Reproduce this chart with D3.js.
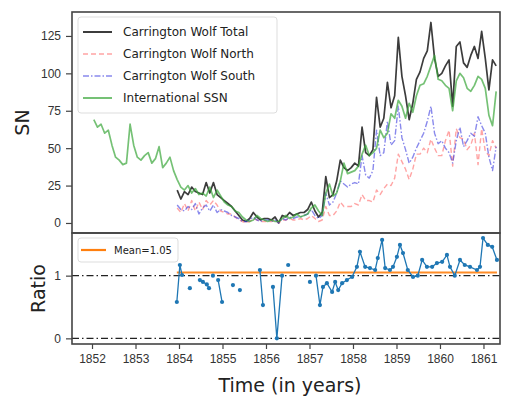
<!DOCTYPE html>
<html><head><meta charset="utf-8">
<script src="https://cdn.jsdelivr.net/npm/d3@7"></script>
<style>body{margin:0;background:#fff}svg{display:block;font-family:"DejaVu Sans",sans-serif}</style>
</head><body><svg id="c" width="506" height="397"></svg>
<script>
// ---- data ----
const issnStart = 1852; // monthly, Jan 1852 .. Apr 1861
const issnValues = [
 69,64,66,60,62,52,44,42,39,40,66,52,
 44,42,45,47,40,43,51,37,40,44,35,29,
 24,22,25,20,23,19,20,18,24,17,22,18,
 14,12,11,8,7,4,2,1,2,5,3,2,
 1,2,1,1,3,5,3,4,6,4,5,6,
 10,12,8,5,20,26,18,20,28,40,33,34,
 35,38,46,52,45,47,50,62,57,60,73,70,
 82,78,70,80,74,85,92,93,98,105,112,96,
 95,92,90,75,95,100,97,90,88,92,98,96,
 90,72,65,88];
const carStart = 1853 + 11/12; // monthly, Dec 1853 .. Apr 1861
const totalValues = [22,
 16,21,19,24,21,20,19,27,20,27,19,17,
 15,13,11,8,5,2,1,3,7,4,2,3,
 3,2,4,0,5,4,7,5,6,7,7,9,
 14,8,4,7,31,17,19,28,42,37,35,37,
 40,38,64,47,45,49,84,64,70,94,77,85,
 124,98,85,69,80,96,101,110,115,134,110,98,
 100,105,109,78,118,121,107,104,112,118,110,128,
 110,89,109,105];
const southValues = [12,
 9,8,11,9,13,6,10,12,8,12,7,9,
 8,7,5,4,3,1,1,2,4,2,1,2,
 2,1,2,0,3,2,4,3,4,4,5,6,
 9,5,3,5,20,12,14,20,28,26,24,26,
 27,26,45,32,30,35,62,45,47,68,52,55,
 78,57,49,40,44,50,55,60,68,78,60,53,
 55,50,47,40,55,64,51,55,60,58,71,65,
 60,44,35,51];
const northValues = [10,
 7,13,8,15,8,14,9,15,12,15,12,8,
 7,6,6,4,2,1,0,1,3,2,1,1,
 1,1,2,0,2,2,3,2,2,3,2,3,
 5,3,1,2,11,5,5,8,14,11,11,11,
 13,12,19,15,15,14,22,19,23,26,25,30,
 46,41,36,29,36,46,46,50,47,56,50,45,
 45,55,62,38,63,57,56,49,52,60,39,63,
 48,45,55,50];
const ratioTimes = [1853.95,1854.02,1854.07,null,1854.25,null,1854.48,1854.55,1854.64,1854.69,null,1854.78,null,
 1854.90,1854.99,null,1855.24,null,1855.40,null,1855.86,1855.93,null,1856.16,1856.25,1856.37,null,1856.51,null,
 1857.01,null,1857.15,1857.24,1857.31,1857.40,1857.52,1857.59,1857.66,1857.75,1857.86,1857.98,1858.09,1858.16,
 1858.28,1858.39,1858.51,1858.57,1858.67,1858.74,1858.85,1858.92,1859.01,1859.08,1859.15,1859.26,1859.38,1859.49,
 1859.59,1859.70,1859.82,1859.93,1860.05,1860.16,1860.23,1860.34,1860.46,1860.57,1860.69,1860.85,1860.92,1860.99,
 1861.10,1861.20,1861.31];
const ratioValues = [0.58,1.17,1.01,null,0.80,null,0.93,0.90,0.86,0.80,null,1.00,null,
 0.93,0.58,null,0.85,null,0.77,null,1.09,0.53,null,0.82,0.0,1.0,null,1.17,null,
 0.90,null,1.0,0.53,0.82,0.88,0.74,0.90,0.77,0.88,0.93,0.98,1.14,1.38,
 1.14,1.12,1.09,1.28,1.57,1.12,1.09,1.14,1.30,1.49,1.36,1.09,0.98,1.00,
 1.25,1.14,1.14,1.20,1.22,1.33,1.14,1.00,1.25,1.17,1.14,1.09,1.14,1.60,
 1.49,1.46,1.25];
const meanRatio = 1.05;
const xTicks = [1852,1853,1854,1855,1856,1857,1858,1859,1860,1861];
const snTicks = [0,25,50,75,100,125];
const ratioTicks = [0,1];
const seriesNames = ["Carrington Wolf Total","Carrington Wolf North","Carrington Wolf South","International SSN"];

// ---- layout ----
const svg = d3.select("#c");
const L=72, R=500, T1=12, B1=233, T2=233, B2=344;
const x = d3.scaleLinear().domain([1851.54,1861.38]).range([L,R]);
const y1 = d3.scaleLinear().domain([-6.7,141]).range([B1,T1]);
const y2 = d3.scaleLinear().domain([-0.09,1.68]).range([B2,T2]);

const monthly = (start, vals) => vals.map((v,i)=>({t:start+(i+0.5)/12, v}));
const issn = monthly(issnStart, issnValues);
const total = monthly(carStart, totalValues);
const north = monthly(carStart, northValues);
const south = monthly(carStart, southValues);
const ratio = ratioTimes.map((t,i)=>({t, v: ratioValues[i]}));

svg.append("defs").append("clipPath").attr("id","clip1").append("rect")
  .attr("x",L).attr("y",T1).attr("width",R-L).attr("height",B1-T1);
svg.select("defs").append("clipPath").attr("id","clip2").append("rect")
  .attr("x",L).attr("y",T2).attr("width",R-L).attr("height",B2-T2);

const line1 = d3.line().x(d=>x(d.t)).y(d=>y1(d.v));
const g1 = svg.append("g").attr("clip-path","url(#clip1)");
const styles = [
  {data: total, stroke:"#1a1a1a", op:0.85, w:1.7, dash:null},
  {data: north, stroke:"#ff5a5a", op:0.55, w:1.4, dash:"5,3"},
  {data: south, stroke:"#3b3be0", op:0.6, w:1.4, dash:"6,2,1.5,2"},
  {data: issn, stroke:"#3aa63a", op:0.7, w:1.7, dash:null}
];
styles.forEach(s=>{
  g1.append("path").datum(s.data).attr("d",line1).attr("fill","none")
    .attr("stroke",s.stroke).attr("stroke-opacity",s.op).attr("stroke-width",s.w)
    .attr("stroke-dasharray",s.dash).attr("stroke-linejoin","round");
});

function styleAxis(a){
  a.select(".domain").remove();
  a.selectAll("text").attr("font-size",12).attr("fill","#333");
  a.selectAll("line").attr("stroke","#444").attr("stroke-width",1.2);
}
// axes top
styleAxis(svg.append("g").attr("transform",`translate(${L},0)`)
  .call(d3.axisLeft(y1).tickValues(snTicks).tickSize(6).tickPadding(5)));

// bottom panel
const g2 = svg.append("g").attr("clip-path","url(#clip2)");
[0,1].forEach(v=>{
  g2.append("line").attr("x1",L).attr("x2",R).attr("y1",y2(v)).attr("y2",y2(v))
    .attr("stroke","#222").attr("stroke-width",1.3).attr("stroke-dasharray","7,3,1.5,3");
});
g2.append("line").attr("x1",x(ratioTimes[0])).attr("x2",x(ratioTimes[ratioTimes.length-1]))
  .attr("y1",y2(meanRatio)).attr("y2",y2(meanRatio))
  .attr("stroke","#ff7f0e").attr("stroke-width",2.2).attr("stroke-opacity",0.9);
const line2 = d3.line().defined(d=>d.t!==null && d.v!==null).x(d=>x(d.t)).y(d=>y2(d.v));
g2.append("path").datum(ratio).attr("d",line2).attr("fill","none")
  .attr("stroke","#1f77b4").attr("stroke-width",1.3);
g2.selectAll("circle").data(ratio.filter(d=>d.t!==null)).join("circle")
  .attr("cx",d=>x(d.t)).attr("cy",d=>y2(d.v)).attr("r",2.1).attr("fill","#1f77b4");

styleAxis(svg.append("g").attr("transform",`translate(${L},0)`)
  .call(d3.axisLeft(y2).tickValues(ratioTicks).tickFormat(d3.format("d")).tickSize(6).tickPadding(5)));
styleAxis(svg.append("g").attr("transform",`translate(0,${B2})`)
  .call(d3.axisBottom(x).tickValues(xTicks).tickFormat(d3.format("d")).tickSize(5).tickPadding(5)));

// frames
[[T1,B1],[T2,B2]].forEach(([a,b])=>{
  svg.append("rect").attr("x",L).attr("y",a).attr("width",R-L).attr("height",b-a)
    .attr("fill","none").attr("stroke","#444").attr("stroke-width",1.6);
});

// legends
const lg = svg.append("g");
lg.append("rect").attr("x",78).attr("y",17).attr("width",199).attr("height",96).attr("rx",3)
  .attr("fill","#fff").attr("fill-opacity",0.85).attr("stroke","#ddd");
seriesNames.forEach((n,i)=>{
  const yy = 32 + i*22;
  const s = styles[i];
  lg.append("line").attr("x1",83).attr("x2",112).attr("y1",yy).attr("y2",yy)
    .attr("stroke",s.stroke).attr("stroke-opacity",s.op).attr("stroke-width",s.w+0.3).attr("stroke-dasharray",s.dash);
  lg.append("text").attr("x",123).attr("y",yy).attr("dy","0.35em").attr("font-size",12)
    .attr("fill","#222").text(n);
});
const lg2 = svg.append("g");
lg2.append("rect").attr("x",78).attr("y",238).attr("width",100).attr("height",24).attr("rx",3)
  .attr("fill","#fff").attr("fill-opacity",0.85).attr("stroke","#ddd");
lg2.append("line").attr("x1",81).attr("x2",106).attr("y1",250).attr("y2",250)
  .attr("stroke","#ff7f0e").attr("stroke-width",2.2);
lg2.append("text").attr("x",114).attr("y",250).attr("dy","0.35em").attr("font-size",10)
  .attr("fill","#222").text("Mean=" + meanRatio.toFixed(2));

// axis titles
svg.append("text").attr("transform",`translate(29,${(T1+B1)/2}) rotate(-90)`)
  .attr("text-anchor","middle").attr("font-size",19).attr("fill","#222").text("SN");
svg.append("text").attr("transform",`translate(45,${(T2+B2)/2}) rotate(-90)`)
  .attr("text-anchor","middle").attr("font-size",19).attr("fill","#222").text("Ratio");
svg.append("text").attr("x",290).attr("y",392).attr("text-anchor","middle")
  .attr("font-size",19).attr("fill","#222").text("Time (in years)");
</script></body></html>
